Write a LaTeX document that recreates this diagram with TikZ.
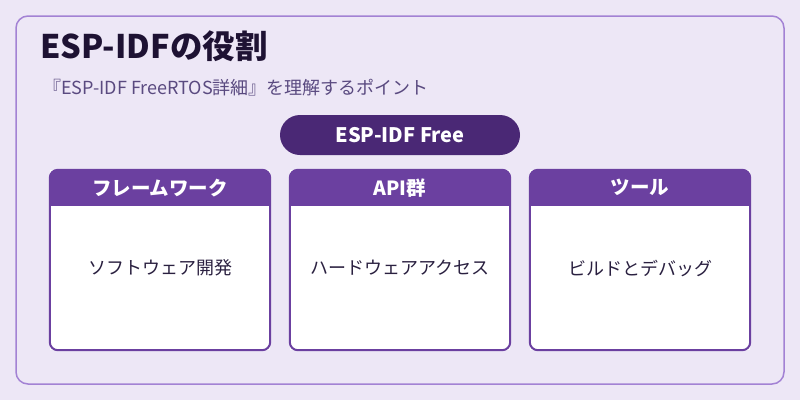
\documentclass[tikz,border=0pt]{standalone}
\usepackage{fontspec}
\setmainfont{Noto Sans CJK JP}
\usepackage{tikz}
\usetikzlibrary{calc,positioning,backgrounds}
\definecolor{pagebg}{HTML}{EDE7F6}
\definecolor{frameline}{HTML}{A382D4}
\definecolor{titlecol}{HTML}{1E1233}
\definecolor{subcol}{HTML}{5A4A80}
\definecolor{pillcol}{HTML}{4A2875}
\definecolor{headcol}{HTML}{6B40A0}
\definecolor{bodycol}{HTML}{2A2040}
\begin{document}
\begin{tikzpicture}[x=1pt,y=-1pt,
  frame/.style={draw=frameline,line width=1.5pt,rounded corners=12pt},
  pill/.style={fill=pillcol,rounded corners=20pt,minimum width=240pt,minimum height=40pt,text=white,font=\bfseries\fontsize{20pt}{22pt}\selectfont},
  card/.style={fill=white,minimum width=220pt,minimum height=180pt,inner sep=0pt},
  cardline/.style={draw=headcol,line width=2pt,rounded corners=8pt},
  headtxt/.style={text=white,font=\bfseries\fontsize{19.5pt}{22pt}\selectfont},
  bodytxt/.style={text=bodycol,font=\fontsize{18pt}{20pt}\selectfont}]
\fill[pagebg] (0,0) rectangle (800,400);
\useasboundingbox (0,0) rectangle (800,400);
\draw[frame] (16,16) rectangle (784,384);
\node[anchor=base west,inner sep=0pt,text=titlecol,font=\bfseries\fontsize{32.5pt}{36pt}\selectfont] (title) at (40,58) {ESP-IDFの役割};
\node[anchor=west,inner sep=0pt,text=subcol,font=\fontsize{18pt}{20pt}\selectfont] (sub) at (43,88) {『ESP-IDF FreeRTOS詳細』を理解するポイント};
\node[pill] (core) at (400,135) {ESP-IDF Free};
\foreach \x/\nm/\head/\body in {160/fw/フレームワーク/ソフトウェア開発,400/api/API群/ハードウェアアクセス,640/tool/ツール/ビルドとデバッグ}{
  \node[card] (\nm) at (\x,260) {};
  \begin{scope}
    \clip[rounded corners=8pt] (\nm.north west) rectangle (\nm.south east);
    \fill[headcol] (\nm.north west) rectangle ($(\nm.north east)+(0,36)$);
  \end{scope}
  \draw[cardline] (\nm.north west) rectangle (\nm.south east);
  \node[headtxt] (\nm-h) at ($(\nm.north)+(0,18)$) {\head};
  \node[bodytxt] (\nm-b) at (\x,268) {\body};
}
\end{tikzpicture}
\end{document}
